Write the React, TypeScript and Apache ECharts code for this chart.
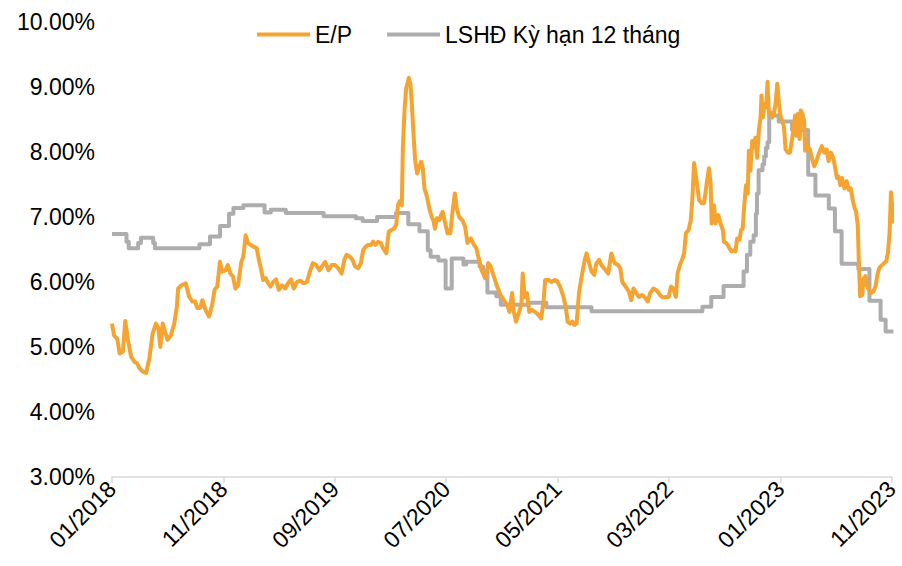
import React, { useEffect, useRef } from "react";
import * as echarts from "echarts";

// x = months since 01/2018
const epX = [0,0.18,0.47,0.69,0.98,1.19,1.43,1.72,2.02,2.25,2.47,2.76,3.06,3.36,3.65,3.95,4.16,4.34,4.55,4.75,4.99,5.29,5.59,5.82,5.94,6.24,6.62,6.93,7.22,7.46,7.66,7.91,8.11,8.4,8.71,9.0,9.21,9.45,9.69,9.89,10.19,10.4,10.63,10.87,11.08,11.32,11.61,11.79,12.0,12.21,12.45,12.75,12.99,13.19,13.4,13.57,13.79,14.02,14.23,14.47,14.73,14.97,15.27,15.57,15.8,16.07,16.31,16.6,16.91,17.2,17.5,17.8,18.03,18.33,18.63,18.92,19.14,19.43,19.72,20.03,20.32,20.61,20.86,21.06,21.36,21.6,21.81,22.1,22.34,22.55,22.75,22.99,23.24,23.44,23.65,23.89,24.13,24.33,24.63,24.84,25.07,25.31,25.52,25.67,25.82,26.02,26.11,26.27,26.41,26.65,26.8,26.94,27.09,27.21,27.39,27.54,27.75,27.9,28.05,28.28,28.49,28.7,28.88,28.99,29.17,29.38,29.53,29.68,29.88,30.12,30.37,30.57,30.78,30.95,31.17,31.46,31.7,31.91,32.2,32.5,32.71,32.95,33.18,33.49,33.6,33.78,33.98,34.29,34.58,34.88,35.18,35.47,35.68,35.92,36.07,36.27,36.51,36.75,36.87,37.05,37.25,37.46,37.7,37.99,38.3,38.53,38.74,38.89,39.19,39.48,39.72,39.93,40.22,40.53,40.73,40.91,41.11,41.33,41.51,41.71,41.92,42.16,42.4,42.6,42.81,43.05,43.29,43.49,43.73,43.94,44.23,44.54,44.83,45.12,45.43,45.63,45.81,46.11,46.41,46.61,46.82,47.06,47.3,47.59,47.8,48.1,48.31,48.6,48.9,49.2,49.44,49.73,49.97,50.18,50.38,50.62,50.77,50.98,51.22,51.36,51.52,51.76,51.96,52.11,52.25,52.47,52.7,52.94,53.15,53.39,53.59,53.74,53.83,54.04,54.19,54.43,54.63,54.84,54.93,55.14,55.37,55.61,55.82,55.97,56.12,56.33,56.48,56.62,56.77,56.92,57.07,57.17,57.31,57.47,57.61,57.76,57.91,58.07,58.22,58.31,58.43,58.58,58.73,58.85,58.97,59.12,59.27,59.42,59.57,59.72,59.88,60.03,60.18,60.33,60.47,60.68,60.86,61.02,61.17,61.32,61.44,61.59,61.74,61.83,61.98,62.13,62.22,62.43,62.65,62.83,63.04,63.24,63.48,63.72,63.94,64.15,64.33,64.54,64.75,64.93,65.08,65.23,65.38,65.53,65.75,65.95,66.14,66.32,66.5,66.68,66.8,66.95,67.04,67.16,67.35,67.46,67.64,67.77,67.95,68.16,68.37,68.55,68.75,68.9,69.06,69.21,69.36,69.51,69.66,69.81,69.93,70.05,70.15];
const epY = [5.36,5.18,5.13,4.9,4.93,5.4,5.11,4.85,4.77,4.75,4.67,4.62,4.6,4.83,5.21,5.36,5.29,5.0,5.36,5.24,5.11,5.18,5.36,5.62,5.9,5.95,5.98,5.77,5.7,5.7,5.6,5.6,5.72,5.57,5.47,5.65,5.88,5.93,6.31,6.16,6.18,6.26,6.13,6.08,5.9,5.95,6.31,6.39,6.72,6.6,6.57,6.54,6.52,6.34,6.18,6.03,6.06,5.98,5.93,6.0,6.04,5.88,5.95,5.9,5.98,6.04,5.9,6.0,6.02,5.98,6.0,6.18,6.29,6.26,6.18,6.26,6.31,6.18,6.26,6.26,6.21,6.13,6.34,6.42,6.39,6.34,6.24,6.21,6.29,6.49,6.54,6.57,6.57,6.62,6.57,6.62,6.6,6.52,6.44,6.77,6.8,6.82,6.88,7.18,7.24,7.18,8.06,8.67,8.98,9.14,9.03,8.67,8.21,7.88,7.67,7.75,7.85,7.75,7.44,7.31,7.13,7.0,6.93,6.82,6.98,6.95,7.03,7.08,6.93,6.75,6.75,7.08,7.36,7.13,7.0,6.95,6.85,6.6,6.67,6.57,6.52,6.34,6.18,6.06,6.13,6.29,6.24,6.08,5.93,5.8,5.72,5.65,5.54,5.83,5.54,5.39,5.52,5.65,6.13,5.77,5.83,5.54,5.57,5.54,5.49,5.44,5.7,6.03,6.03,6.0,6.03,6.02,5.93,5.77,5.62,5.39,5.36,5.39,5.34,5.36,5.83,6.08,6.31,6.44,6.31,6.16,6.11,6.29,6.34,6.26,6.2,6.13,6.44,6.29,6.26,6.21,6.0,5.93,5.85,5.72,5.9,5.83,5.77,5.8,5.77,5.7,5.83,5.9,5.87,5.8,5.76,5.77,5.77,5.93,5.9,5.77,6.13,6.26,6.36,6.44,6.75,6.8,6.95,7.31,7.83,7.57,7.26,7.21,7.21,7.52,7.75,7.52,6.9,7.18,6.9,7.03,6.9,6.8,6.62,6.6,6.54,6.47,6.49,6.47,6.67,6.65,6.8,6.82,7.21,7.49,7.36,8.02,7.71,8.17,8.07,8.22,7.91,8.33,8.53,8.87,8.53,8.74,8.69,9.08,8.59,8.61,8.53,8.59,8.74,9.05,8.74,8.53,8.48,8.38,8.04,7.99,7.99,8.17,8.33,8.56,8.25,8.59,8.2,8.64,8.59,8.48,8.02,8.09,8.04,7.91,7.78,7.86,7.99,8.09,7.99,8.04,7.86,7.99,7.91,7.75,7.6,7.62,7.49,7.6,7.44,7.55,7.42,7.44,7.26,7.13,7.08,6.87,6.35,5.78,5.8,6.04,6.09,5.94,5.88,5.83,5.86,5.94,6.14,6.22,6.25,6.27,6.3,6.32,6.45,6.77,7.38,7.15,6.9];

const lsX = [0,1.3,1.5,2.35,2.6,3.7,3.85,7.85,8.8,9.7,10.5,10.9,11.8,13.7,14.25,15.6,19.0,21.9,22.5,23.8,25.5,26.6,27.6,28.35,28.6,29.3,29.95,30.5,31.55,31.8,33.0,33.3,33.7,34.5,34.9,37.4,39.0,43.05,53.0,53.8,54.9,56.7,57.0,57.3,57.6,57.8,57.9,58.05,58.4,58.55,58.7,58.85,59.0,59.85,61.05,62.5,63.15,64.35,64.9,65.5,67.0,68.0,69.0,69.45,70.15];
const lsY = [6.74,6.62,6.52,6.6,6.68,6.6,6.52,6.58,6.7,6.86,7.05,7.14,7.18,7.07,7.11,7.06,7.01,6.98,6.94,7.0,7.06,6.89,6.78,6.49,6.39,6.33,5.9,6.36,6.27,6.31,6.24,6.15,5.84,5.78,5.65,5.68,5.61,5.55,5.62,5.77,5.94,6.16,6.42,6.62,6.72,7.05,7.36,7.72,7.81,7.93,8.06,8.15,8.56,8.47,8.34,7.65,7.33,7.13,6.78,6.28,6.2,5.71,5.42,5.24,5.24];

const xTickLabels = ["01/2018","11/2018","09/2019","07/2020","05/2021","03/2022","01/2023","11/2023"];
const seriesNames = ["E/P", "LSHĐ Kỳ hạn 12 tháng"];

const FONT = "'Liberation Sans', Arial, sans-serif";

export default function App() {
  const ref = useRef<HTMLDivElement>(null);
  useEffect(() => {
    if (!ref.current) return;
    const chart = echarts.init(ref.current, undefined, { renderer: "svg" });
    const ep = epX.map((x, i) => [x, epY[i]]);
    const ls = lsX.map((x, i) => [x, lsY[i]]);
    chart.setOption({
      animation: false,
      backgroundColor: "#fff",
      grid: { left: 112, right: 5, top: 22, bottom: 89, containLabel: false },
      legend: {
        left: 257,
        top: 23,
        padding: 0,
        itemWidth: 53,
        itemHeight: 4,
        itemGap: 35,
        icon: "rect",
        textStyle: { fontFamily: FONT, fontSize: 23, color: "#000", padding: [0, 0, 0, 0] },
        data: seriesNames,
      },
      xAxis: {
        type: "value",
        min: 0,
        max: 70,
        interval: 10,
        axisLine: { show: true, lineStyle: { color: "#D9D9D9", width: 1.5 } },
        axisTick: { show: true, length: 6, lineStyle: { color: "#D9D9D9", width: 1.5 } },
        splitLine: { show: false },
        axisLabel: {
          rotate: 45,
          margin: 8,
          fontFamily: FONT,
          fontSize: 23,
          color: "#000",
          formatter: (v: number) => xTickLabels[Math.round(v / 10)] ?? "",
        },
      },
      yAxis: {
        type: "value",
        min: 3,
        max: 10,
        interval: 1,
        axisLine: { show: false },
        axisTick: { show: false },
        splitLine: { show: false },
        axisLabel: {
          margin: 17,
          fontFamily: FONT,
          fontSize: 23,
          color: "#000",
          formatter: (v: number) => v.toFixed(2) + "%",
        },
      },
      series: [
        {
          name: seriesNames[0],
          type: "line",
          data: ep,
          showSymbol: false,
          clip: false,
          z: 3,
          itemStyle: { color: "#F5A331" },
          lineStyle: { color: "#F5A331", width: 4, join: "round" },
        },
        {
          name: seriesNames[1],
          type: "line",
          data: ls,
          step: "end",
          showSymbol: false,
          clip: false,
          z: 2,
          itemStyle: { color: "#ADADAD" },
          lineStyle: { color: "#ADADAD", width: 4, join: "round" },
        },
      ],
    });
    return () => chart.dispose();
  }, []);
  return <div ref={ref} style={{ width: 902, height: 566, position: "absolute", left: 0, top: 0 }} />;
}
